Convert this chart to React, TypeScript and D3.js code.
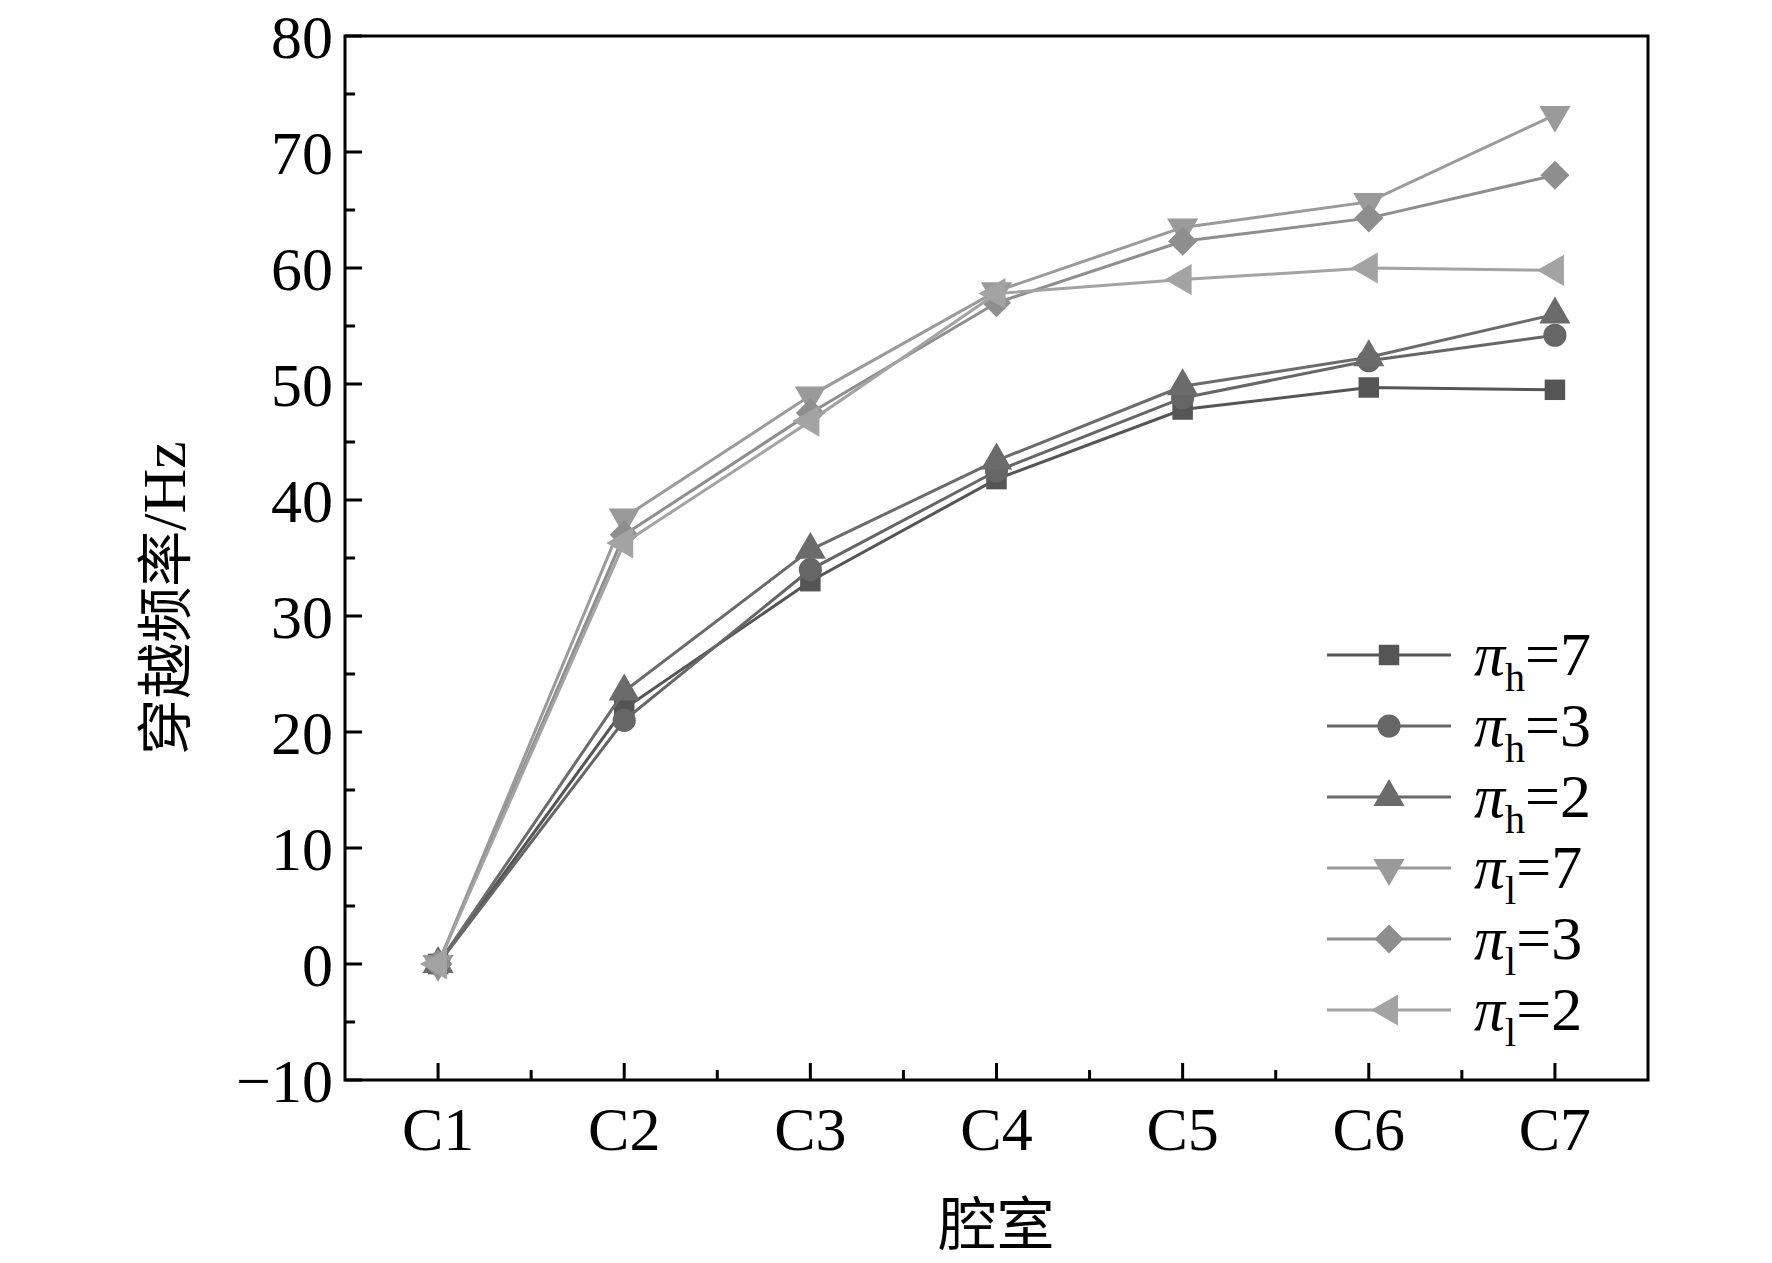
import * as d3 from 'd3';

const categories = ['C1', 'C2', 'C3', 'C4', 'C5', 'C6', 'C7'];
const hSub = ['h', 'h', 'h', 'l', 'l', 'l'];
const piValues = ['7', '3', '2', '7', '3', '2'];
const seriesValues = [
  [0, 22, 33, 41.8, 47.8, 49.7, 49.5],
  [0, 21, 34, 42.5, 48.8, 52, 54.2],
  [0, 23.5, 35.7, 43.4, 49.8, 52.3, 56],
  [0, 38.5, 49, 58, 63.5, 65.7, 73.2],
  [0, 37, 47.5, 57, 62.3, 64.3, 68],
  [0, 36.3, 46.8, 57.8, 59, 60, 59.8],
];
const colors = ['#555555', '#666666', '#6b6b6b', '#9a9a9a', '#8e8e8e', '#a3a3a3'];
const symbols = ['square', 'circle', 'up', 'down', 'diamond', 'left'];
const yTicks = [-10, 0, 10, 20, 30, 40, 50, 60, 70, 80];

const W = 1772, H = 1263;
const L = 345, R = 1648, T = 36, B = 1080;
const serif = '"Liberation Serif", "DejaVu Serif", serif';

function marker(sym: string, size: number) {
  switch (sym) {
    case 'square': return { d: d3.symbol(d3.symbolSquare, size)()!, rot: 0 };
    case 'circle': return { d: d3.symbol(d3.symbolCircle, size)()!, rot: 0 };
    case 'diamond': return { d: d3.symbol(d3.symbolSquare, size)()!, rot: 45 };
    case 'down': return { d: d3.symbol(d3.symbolTriangle, size)()!, rot: 180 };
    case 'left': return { d: d3.symbol(d3.symbolTriangle, size)()!, rot: -90 };
    default: return { d: d3.symbol(d3.symbolTriangle, size)()!, rot: 0 };
  }
}

export default function App() {
  const x = d3.scalePoint<string>().domain(categories).range([L, R]).padding(0.5);
  const y = d3.scaleLinear().domain([-10, 80]).range([B, T]);
  const step = x.step();
  const line = d3.line<number>().x((_, i) => x(categories[i])!).y(d => y(d));
  const minorY = d3.range(-5, 80, 10);
  const minorX = categories.slice(0, -1).map(c => x(c)! + step / 2);
  const msize = 420;
  const fs = 62;

  return (
    <svg width={W} height={H} style={{ display: 'block', margin: -8 }}>
      <rect width={W} height={H} fill="#fff" />
      {seriesValues.map((s, k) => (
        <g key={k}>
          <path d={line(s)!} fill="none" stroke={colors[k]} strokeWidth={3} />
          {s.map((v, i) => {
            const m = marker(symbols[k], msize);
            return <path key={i} d={m.d} fill={colors[k]}
              transform={`translate(${x(categories[i])},${y(v)}) rotate(${m.rot})`} />;
          })}
        </g>
      ))}
      <rect x={L} y={T} width={R - L} height={B - T} fill="none" stroke="#000" strokeWidth={3} />
      {yTicks.map(t => (
        <g key={t}>
          <line x1={L} x2={L + 17} y1={y(t)} y2={y(t)} stroke="#000" strokeWidth={3} />
          <text x={L - 12} y={y(t)} dy="0.35em" textAnchor="end" fontFamily={serif} fontSize={fs}>
            {t < 0 ? '\u2212' + Math.abs(t) : t}
          </text>
        </g>
      ))}
      {minorY.map(t => <line key={t} x1={L} x2={L + 10} y1={y(t)} y2={y(t)} stroke="#000" strokeWidth={3} />)}
      {categories.map(c => (
        <g key={c}>
          <line x1={x(c)} x2={x(c)} y1={B} y2={B - 17} stroke="#000" strokeWidth={3} />
          <text x={x(c)} y={B + 70} textAnchor="middle" fontFamily={serif} fontSize={fs}>{c}</text>
        </g>
      ))}
      {minorX.map((v, i) => <line key={i} x1={v} x2={v} y1={B} y2={B - 10} stroke="#000" strokeWidth={3} />)}
      <text x={(L + R) / 2} y={1245} textAnchor="middle" fontFamily='"Noto Sans CJK SC", sans-serif' fontSize={58}>腔室</text>
      <text transform={`translate(185,${(T + B) / 2 + 40}) rotate(-90)`} textAnchor="middle" fontSize={56}
        fontFamily='"Noto Sans CJK SC", sans-serif'>
        穿越频率<tspan fontFamily={serif} fontSize={fs}>/Hz</tspan>
      </text>
      {seriesValues.map((_, k) => {
        const ly = 655 + k * 71;
        const m = marker(symbols[k], msize);
        return (
          <g key={k}>
            <line x1={1327} x2={1451} y1={ly} y2={ly} stroke={colors[k]} strokeWidth={3} />
            <path d={m.d} fill={colors[k]} transform={`translate(1389,${ly}) rotate(${m.rot})`} />
            <text x={1474} y={ly + 20} fontFamily={serif} fontSize={fs}>
              <tspan fontStyle="italic">π</tspan>
              <tspan fontSize={40} dy={16}>{hSub[k]}</tspan>
              <tspan dy={-16}>={piValues[k]}</tspan>
            </text>
          </g>
        );
      })}
    </svg>
  );
}
